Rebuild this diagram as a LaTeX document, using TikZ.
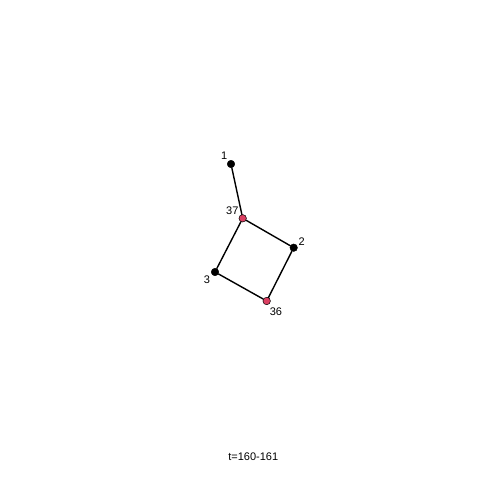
\documentclass[tikz,border=0pt]{standalone}
\usepackage{fontspec}
\setmainfont{Liberation Sans}
\usetikzlibrary{positioning}
\definecolor{vred}{HTML}{DB3F62}
\definecolor{ink}{HTML}{000000}
\tikzset{
  vtx/.style={circle, draw=ink, fill=ink, line width=0.5pt, minimum size=7.5pt, inner sep=0pt},
  vtxred/.style={vtx, fill=vred},
  vlab/.style={font=\fontsize{11}{13}\selectfont, text=ink, inner sep=0pt},
  edge/.style={line width=1.4pt, draw=ink},
}
\begin{document}
\begin{tikzpicture}[x=1pt, y=-1pt, line cap=round, line join=round]
\useasboundingbox (0,0) rectangle (480,480);

% vertices
\node[vtx]    (v1)  at (231,164) {};
\node[vtxred] (v37) at (242.7,218.3) {};
\node[vtx]    (v2)  at (293.7,247.7) {};
\node[vtx]    (v3)  at (215,272) {};
\node[vtxred] (v36) at (266.7,301) {};

% edges
\draw[edge] (v1) -- (v37);
\draw[edge] (v37) -- (v2);
\draw[edge] (v37) -- (v3);
\draw[edge] (v2) -- (v36);
\draw[edge] (v3) -- (v36);

% labels
\node[vlab] (l1)  at (224.3,155.5) {1};
\node[vlab] (l37) at (232.3,210.5) {37};
\node[vlab] (l2)  at (301.7,241.7) {2};
\node[vlab] (l3)  at (207,280) {3};
\node[vlab] (l36) at (276,311.7) {36};

\node[vlab] (tt) at (253.3,456.7) {t=160-161};
\end{tikzpicture}
\end{document}
